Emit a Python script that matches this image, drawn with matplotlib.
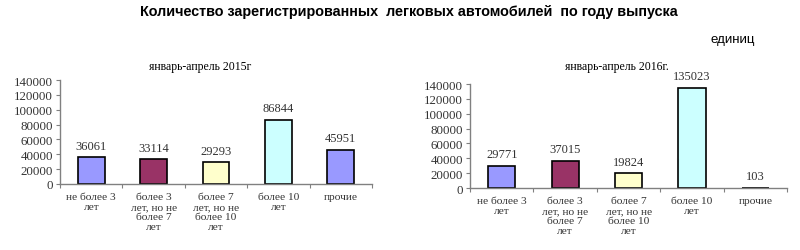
import matplotlib
matplotlib.use("Agg")
import matplotlib.pyplot as plt
from matplotlib import font_manager

title = "Количество зарегистрированных  легковых автомобилей  по году выпуска"
units = "единиц"
categories = ["не более 3\nлет", "более 3\nлет, но не\nболее 7\nлет",
              "более 7\nлет, но не\nболее 10\nлет", "более 10\nлет", "прочие"]
sub_titles = ["январь-апрель 2015г", "январь-апрель 2016г."]
values_2015 = [36061, 33114, 29293, 86844, 45951]
values_2016 = [29771, 37015, 19824, 135023, 103]
bar_colors = ["#9999FF", "#993366", "#FFFFCC", "#CCFFFF", "#9999FF"]
yticks = [0, 20000, 40000, 60000, 80000, 100000, 120000, 140000]

names = {f.name for f in font_manager.fontManager.ttflist}
narrow = "Liberation Sans Narrow" if "Liberation Sans Narrow" in names else "Liberation Sans"

fig = plt.figure(figsize=(8.0, 2.51), dpi=100)
serif = "Liberation Serif"

fig.text(0.511, 0.952, title, ha="center", va="center",
         fontsize=11.4 if narrow != "Liberation Sans" else 10.4,
         fontweight="bold", family=narrow)
fig.text(0.916, 0.84, units, ha="center", va="center", fontsize=9.5,
         family=narrow)

axes_pos = [[0.075, 0.263, 0.39, 0.414], [0.5875, 0.247, 0.3965, 0.414]]
title_pos = [(0.25, 0.733), (0.771, 0.733)]
datasets = [values_2015, values_2016]

for pos, vals, st, tp in zip(axes_pos, datasets, sub_titles, title_pos):
    ax = fig.add_axes(pos)
    x = list(range(len(categories)))
    ax.bar(x, vals, width=0.43, color=bar_colors, edgecolor="black", linewidth=1.2)
    ax.set_xlim(-0.5, len(categories) - 0.5)
    ax.set_ylim(0, 140000)
    ax.set_yticks(yticks)
    ax.set_yticklabels([str(t) for t in yticks], fontsize=9.3, family=serif, color="#333333")
    ax.set_xticks([i - 0.5 for i in range(len(categories) + 1)])
    ax.set_xticklabels([])
    ax.set_xticks(x, minor=True)
    ax.set_xticklabels(categories, minor=True, fontsize=8.2, family=serif,
                       color="#333333", linespacing=1.15)
    ax.tick_params(axis="x", which="minor", length=0, pad=6)
    ax.tick_params(axis="x", which="major", length=3, direction="out", color="#808080")
    ax.tick_params(axis="y", length=3, direction="out", color="#808080", pad=2)
    for s in ["top", "right"]:
        ax.spines[s].set_visible(False)
    for s in ["left", "bottom"]:
        ax.spines[s].set_color("#808080")
        ax.spines[s].set_linewidth(1.0)
    for xi, v in zip(x, vals):
        ax.annotate(str(v), (xi, v), xytext=(0, 4), textcoords="offset points",
                    ha="center", va="bottom", fontsize=9, family=serif, color="#333333")
    fig.text(tp[0], tp[1], st, ha="center", va="center", fontsize=8.5, family=serif)

fig.savefig("out.png", dpi=100)
